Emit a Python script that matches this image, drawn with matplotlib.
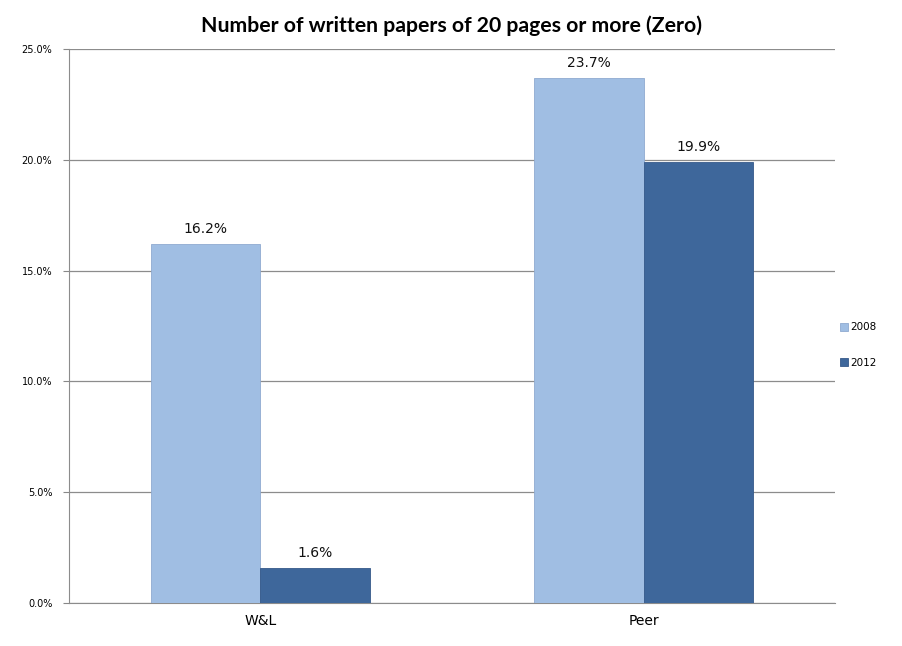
import numpy as np
import matplotlib.pyplot as plt
from matplotlib.ticker import FuncFormatter

categories = ["W&L", "Peer"]
years = ["2008", "2012"]
vals_2008 = [16.2, 23.7]
vals_2012 = [1.6, 19.9]

fig = plt.figure(figsize=(9.03, 6.46), dpi=100)
ax = fig.add_axes([0.0764, 0.0666, 0.8483, 0.8574])

x = np.arange(len(categories))
w = 0.285
b1 = ax.bar(x - w / 2, vals_2008, w, color="#A0BEE3", edgecolor="#8FAAD0", linewidth=0.6, label=years[0], zorder=3)
b2 = ax.bar(x + w / 2, vals_2012, w, color="#3E679B", edgecolor="#35598A", linewidth=0.6, label=years[1], zorder=3)

for bars, vals in [(b1, vals_2008), (b2, vals_2012)]:
    for r, v in zip(bars, vals):
        ax.text(r.get_x() + r.get_width() / 2, v + 0.35, f"{v:.1f}%", ha="center", va="bottom",
                fontsize=10, color="#111111")

ax.set_xlim(-0.5, 1.5)
ax.set_ylim(0, 25)
ax.set_yticks(np.arange(0, 26, 5))
ax.yaxis.set_major_formatter(FuncFormatter(lambda v, p: f"{v:.1f}%"))
ax.tick_params(axis="y", labelsize=7, length=4, color="#888888", pad=8)
ax.tick_params(axis="x", labelsize=10, length=0, pad=8)
ax.set_xticks(x)
ax.set_xticklabels(categories)
ax.grid(axis="y", color="#8C8C8C", linewidth=0.9, zorder=0)
for s in ["top", "right"]:
    ax.spines[s].set_visible(False)
ax.spines["left"].set_color("#8C8C8C")
ax.spines["bottom"].set_color("#8C8C8C")

ax.set_title("Number of written papers of 20 pages or more (Zero)", fontsize=15.3, fontweight="bold",
             family="Lato", pad=12)

ax.legend(loc="center left", bbox_to_anchor=(0.925, (646 - 345) / 646), bbox_transform=fig.transFigure,
          frameon=False, fontsize=7.5, handlelength=0.7, handleheight=0.7, handletextpad=0.2,
          labelspacing=2.4, borderpad=0)

fig.savefig("out.png", dpi=100)
